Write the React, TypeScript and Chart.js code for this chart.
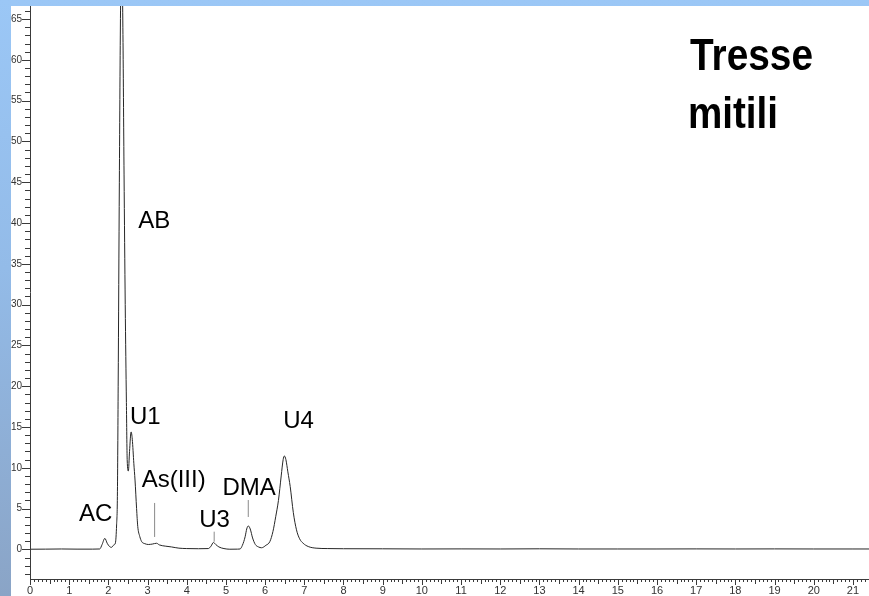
import React, { useEffect, useRef } from "react";
import { Chart, registerables } from "chart.js";
Chart.register(...registerables);

// Retention time (min)
const retentionTime = [
  0, 0.4, 0.8, 1.2, 1.6, 1.78, 1.84, 1.91, 1.97, 2.03, 2.08, 2.14, 2.18, 2.21, 2.23, 2.25, 2.28, 2.31, 2.34, 2.37,
  2.4, 2.43, 2.46, 2.48, 2.51, 2.54, 2.58, 2.61, 2.65, 2.68, 2.72, 2.75, 2.8, 2.85, 2.93, 3.02, 3.12, 3.23, 3.3, 3.45,
  3.61, 3.8, 4.0, 4.3, 4.55, 4.62, 4.68, 4.74, 4.82, 4.95, 5.1, 5.3, 5.36, 5.42, 5.49, 5.53, 5.57, 5.62, 5.68, 5.75,
  5.83, 5.91, 6.02, 6.12, 6.2, 6.27, 6.34, 6.41, 6.46, 6.49, 6.53, 6.58, 6.64, 6.72, 6.8, 6.88, 6.97, 7.1, 7.3, 7.6,
  8, 9, 10, 11, 12, 13, 14, 15, 16, 17, 18, 19, 20, 21, 21.5,
];
// Detector signal
const signal = [
  0.02, 0.03, 0.05, 0.03, 0.03, 0.05, 0.6, 1.35, 0.75, 0.35, 0.25, 0.55, 0.8, 3.0, 6.5, 20, 45, 66, 74, 64,
  46, 30, 18, 11, 9.6, 12, 14.4, 13.5, 10.5, 8.5, 5, 2.8, 1.6, 0.95, 0.7, 0.6, 0.65, 0.75, 0.55, 0.4,
  0.3, 0.15, 0.1, 0.08, 0.1, 0.4, 0.85, 0.6, 0.3, 0.1, 0.02, 0.03, 0.05, 0.5, 1.55, 2.5, 2.87, 2.5, 1.4, 0.6,
  0.3, 0.2, 0.5, 0.95, 2.2, 4.0, 6.0, 9.0, 11.0, 11.45, 11.0, 9.5, 7.7, 4.5, 2.4, 1.3, 0.75, 0.35, 0.15, 0.1,
  0.08, 0.07, 0.05, 0.06, 0.05, 0.07, 0.05, 0.05, 0.05, 0.06, 0.05, 0.06, 0.05, 0.05, 0.05,
];

// Marker ticks under peak names
const markerTime = [3.18, 4.7, 5.57];
const markerLow = [1.52, 0.94, 3.97];
const markerHigh = [5.69, 2.17, 6.05];

const peakNames = ["AC", "AB", "U1", "As(III)", "U3", "DMA", "U4"];
const titleLines = ["Tresse", "mitili"];

const xTickLabels = Array.from({ length: 22 }, (_, i) => String(i));
const yTickLabels = ["0", "5", "10", "15", "20", "25", "30", "35", "40", "45", "50", "55", "60", "65"];

// label anchor positions (data space) – layout only
const nameAnchors: [number, number][] = [
  [1.25, 3.48],
  [2.76, 39.4],
  [2.55, 15.37],
  [2.85, 7.68],
  [4.32, 2.78],
  [4.91, 6.67],
  [6.46, 14.85],
];

const decorPlugin = {
  id: "decor",
  afterDraw(chart: any) {
    const { ctx, chartArea: ca } = chart;
    const x = chart.scales.x;
    const y = chart.scales.y;
    ctx.save();
    ctx.strokeStyle = "#3a3a3a";
    ctx.lineWidth = 1;
    // axes lines
    ctx.beginPath();
    ctx.moveTo(Math.round(ca.left) + 0.5, ca.top);
    ctx.lineTo(Math.round(ca.left) + 0.5, ca.bottom);
    ctx.moveTo(ca.left, Math.round(ca.bottom) + 0.5);
    ctx.lineTo(ca.right, Math.round(ca.bottom) + 0.5);
    ctx.stroke();

    // y ticks
    ctx.beginPath();
    for (let v = -3; v <= 66; v++) {
      const py = Math.round(y.getPixelForValue(v)) + 0.5;
      const len = v % 5 === 0 ? 8 : 5;
      ctx.moveTo(ca.left, py);
      ctx.lineTo(ca.left - len, py);
    }
    // x ticks
    for (let i = 0; i <= 214; i++) {
      const v = i / 10;
      const px = Math.round(x.getPixelForValue(v)) + 0.5;
      const len = i % 10 === 0 ? 6 : i % 5 === 0 ? 5 : 3;
      ctx.moveTo(px, ca.bottom);
      ctx.lineTo(px, ca.bottom + len);
    }
    ctx.stroke();

    ctx.fillStyle = "#333";
    ctx.font = "10px 'Liberation Sans Narrow', 'Liberation Sans', sans-serif";
    ctx.textAlign = "right";
    ctx.textBaseline = "middle";
    yTickLabels.forEach((lab) => {
      const py = y.getPixelForValue(Number(lab));
      ctx.fillText(lab, ca.left - 8, py);
    });
    ctx.font = "11px 'Liberation Sans Narrow', 'Liberation Sans', sans-serif";
    ctx.textAlign = "center";
    ctx.textBaseline = "alphabetic";
    xTickLabels.forEach((lab) => {
      const px = x.getPixelForValue(Number(lab));
      ctx.fillText(lab, px, ca.bottom + 15);
    });

    // peak names
    ctx.fillStyle = "#000";
    ctx.font = "24px 'Liberation Sans', Arial, sans-serif";
    ctx.textAlign = "left";
    peakNames.forEach((name, i) => {
      const [tx, ty] = nameAnchors[i];
      ctx.fillText(name, x.getPixelForValue(tx), y.getPixelForValue(ty));
    });

    // title
    ctx.font = "bold 44px 'Liberation Sans', Arial, sans-serif";
    const titlePos: [number, number, number][] = [
      [690, 70, 123],
      [688, 128, 90],
    ];
    titleLines.forEach((t, i) => {
      const [tx, ty, w] = titlePos[i];
      const mw = ctx.measureText(t).width;
      ctx.save();
      ctx.translate(tx, ty);
      ctx.scale(w / mw, 1);
      ctx.fillText(t, 0, 0);
      ctx.restore();
    });
    ctx.restore();
  },
};

export default function App() {
  const ref = useRef<HTMLCanvasElement>(null);
  useEffect(() => {
    if (!ref.current) return;
    const markerSets = markerTime.map((t, i) => ({
      data: [
        { x: t, y: markerLow[i] },
        { x: t, y: markerHigh[i] },
      ],
      borderColor: "#8a8a8a",
      borderWidth: 1,
      pointRadius: 0,
      tension: 0,
    }));
    const chart = new Chart(ref.current, {
      type: "line",
      data: {
        datasets: [
          {
            data: retentionTime.map((t, i) => ({ x: t, y: signal[i] })),
            borderColor: "#262626",
            borderWidth: 1,
            pointRadius: 0,
            cubicInterpolationMode: "monotone",
          },
          ...markerSets,
        ] as any,
      },
      options: {
        animation: false,
        responsive: false,
        devicePixelRatio: 1,
        layout: { padding: { left: 30, top: 6, right: 0, bottom: 17 } },
        plugins: { legend: { display: false }, tooltip: { enabled: false } },
        scales: {
          x: { type: "linear", min: 0, max: 21.41, display: false },
          y: { type: "linear", min: -3.63, max: 66.6, display: false },
        },
      },
      plugins: [decorPlugin],
    });
    return () => chart.destroy();
  }, []);
  return (
    <div
      style={{
        position: "absolute",
        left: 0,
        top: 0,
        width: 869,
        height: 596,
        background: "linear-gradient(180deg, #9bc7f6 0%, #93bbe8 45%, #8aa4c6 100%)",
        overflow: "hidden",
      }}
    >
      <div style={{ position: "absolute", left: 11, top: 6, width: 858, height: 590, background: "#fff" }} />
      <canvas ref={ref} width={869} height={596} style={{ position: "absolute", left: 0, top: 0 }} />
    </div>
  );
}
